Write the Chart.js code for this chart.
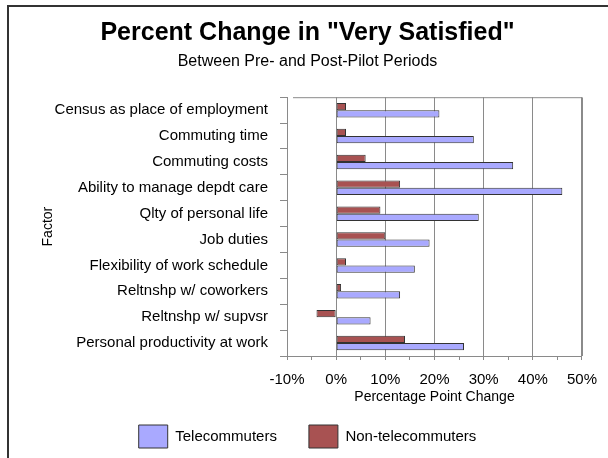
<!DOCTYPE html>
<html>
<head>
<meta charset="utf-8">
<script src="https://cdn.jsdelivr.net/npm/chart.js@4/dist/chart.umd.min.js"></script>
<style>
    html, body { margin: 0; padding: 0; background: #fff; }
    #wrap { width: 608px; height: 458px; }
</style>
</head>
<body>
<div id="wrap"><canvas id="SatisfactionChart" width="608" height="458"></canvas></div>
<script>
// chart data
const factors = [
    "Census as place of employment",
    "Commuting time",
    "Commuting costs",
    "Ability to manage depdt care",
    "Qlty of personal life",
    "Job duties",
    "Flexibility of work schedule",
    "Reltnshp w/ coworkers",
    "Reltnshp w/ supvsr",
    "Personal productivity at work"
];
const telecommuters = [21, 28, 36, 46, 29, 19, 16, 13, 7, 26];
const nonTelecommuters = [2, 2, 6, 13, 9, 10, 2, 1, -4, 14];

const FontFamily = "'Liberation Sans', Arial, sans-serif";
const GridGray = '#8a8a8a';
const PadLeft = 32;

// outer frame (left and top edge) plus the plot area box
const framePlugin = {
    id: 'frame',
    beforeDraw(chart) {
        const ctx = chart.ctx;
        ctx.save();
        ctx.strokeStyle = '#333';
        ctx.lineWidth = 2;
        ctx.beginPath();
        ctx.moveTo(8, 458);
        ctx.lineTo(8, 6);
        ctx.lineTo(608, 6);
        ctx.stroke();
        ctx.restore();
    },
    afterDatasetsDraw(chart) {
        const a = chart.chartArea;
        const ctx = chart.ctx;
        ctx.save();
        ctx.strokeStyle = GridGray;
        ctx.lineWidth = 1;
        ctx.beginPath();
        ctx.moveTo(a.left + 6, a.top + 0.5);
        ctx.lineTo(a.right + 0.5, a.top + 0.5);
        ctx.lineTo(a.right + 0.5, a.bottom);
        ctx.stroke();
        ctx.restore();
    }
};

function setUpChart() {
    new Chart(document.getElementById('SatisfactionChart'), {
        type: 'bar',
        data: {
            labels: factors,
            datasets: [
                {
                    label: 'Non-telecommuters',
                    data: nonTelecommuters,
                    backgroundColor: '#a85252',
                    borderColor: '#333',
                    borderWidth: 1,
                    borderSkipped: false
                },
                {
                    label: 'Telecommuters',
                    data: telecommuters,
                    backgroundColor: '#a9a9ff',
                    borderColor: '#333',
                    borderWidth: 1,
                    borderSkipped: false
                }
            ]
        },
        options: {
            indexAxis: 'y',
            responsive: false,
            animation: false,
            categoryPercentage: 0.56,
            barPercentage: 1.0,
            layout: {
                padding: { left: PadLeft, right: 25, top: 8, bottom: 0 }
            },
            plugins: {
                title: {
                    display: true,
                    text: 'Percent Change in "Very Satisfied"',
                    color: '#000',
                    font: { family: FontFamily, size: 25, weight: 'bold' },
                    padding: { top: 10, bottom: 2 }
                },
                subtitle: {
                    display: true,
                    text: 'Between Pre- and Post-Pilot Periods',
                    color: '#000',
                    font: { family: FontFamily, size: 16 },
                    padding: { top: 2, bottom: 26 }
                },
                legend: {
                    position: 'bottom',
                    reverse: true,
                    labels: {
                        boxWidth: 29,
                        boxHeight: 23,
                        padding: 32,
                        color: '#000',
                        font: { family: FontFamily, size: 15 }
                    }
                },
                tooltip: { enabled: false }
            },
            scales: {
                x: {
                    min: -10,
                    max: 50,
                    ticks: {
                        stepSize: 5,
                        autoSkip: false,
                        maxRotation: 0,
                        color: '#000',
                        padding: 11,
                        font: { family: FontFamily, size: 15 },
                        callback: v => (v % 10 === 0 ? v + '%' : '')
                    },
                    grid: {
                        color: c => (c.tick && c.tick.value % 10 === 0 ? GridGray : 'rgba(0,0,0,0)'),
                        tickColor: GridGray,
                        tickLength: 4
                    },
                    border: { color: GridGray },
                    title: {
                        display: true,
                        text: 'Percentage Point Change',
                        color: '#000',
                        font: { family: FontFamily, size: 14 },
                        padding: { top: 0, bottom: -13 }
                    },
                    afterFit: scale => { scale.height = 37; }
                },
                y: {
                    ticks: {
                        color: '#000',
                        padding: 12,
                        font: { family: FontFamily, size: 15 }
                    },
                    grid: {
                        offset: true,
                        drawOnChartArea: false,
                        color: GridGray,
                        tickLength: 7
                    },
                    border: { color: GridGray },
                    title: {
                        display: true,
                        text: 'Factor',
                        color: '#000',
                        font: { family: FontFamily, size: 14 },
                        padding: { top: 8, bottom: 4 }
                    },
                    afterFit: scale => { scale.width = 287 - PadLeft; }
                }
            }
        },
        plugins: [framePlugin]
    });
}

window.addEventListener('load', function () {
    setUpChart();
});
</script>
</body>
</html>
